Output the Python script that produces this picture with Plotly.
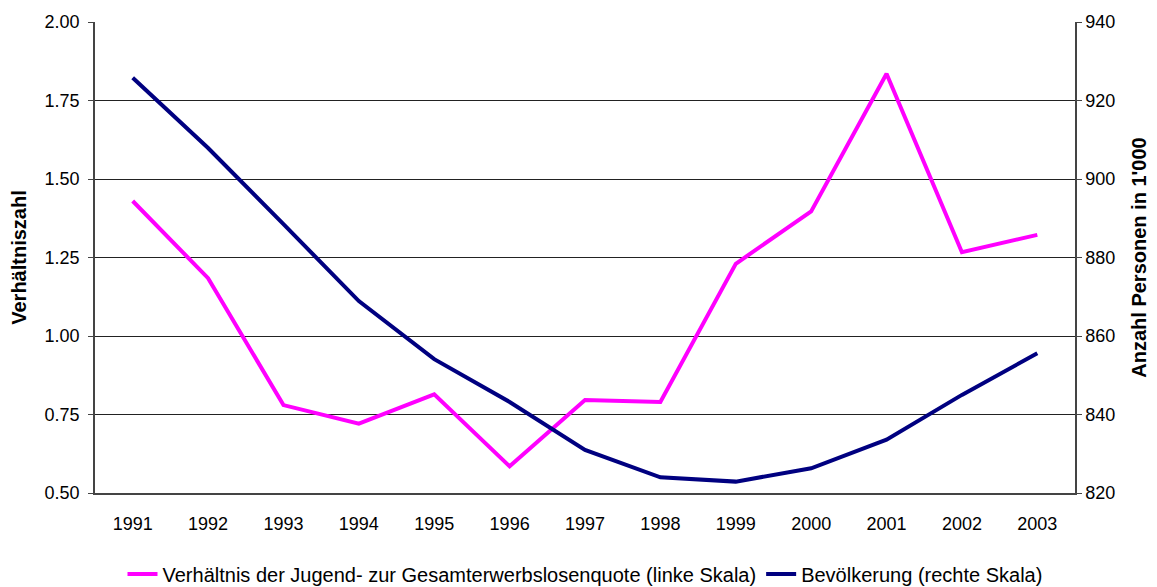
import plotly.graph_objects as go

years = ["1991", "1992", "1993", "1994", "1995", "1996", "1997",
         "1998", "1999", "2000", "2001", "2002", "2003"]
verhaeltnis = [1.43, 1.184, 0.78, 0.721, 0.814, 0.585, 0.796,
               0.79, 1.23, 1.397, 1.835, 1.267, 1.322]
bevoelkerung = [925.8, 907.9, 888.5, 868.9, 854.1, 843.2, 831.0,
                824.0, 822.9, 826.3, 833.6, 845.0, 855.6]

left_ticks = [0.5, 0.75, 1.0, 1.25, 1.5, 1.75, 2.0]
left_ticktext = ["0.50", "0.75", "1.00", "1.25", "1.50", "1.75", "2.00"]
right_ticks = [820, 840, 860, 880, 900, 920, 940]

font_family = "Liberation Sans, Arial, sans-serif"

fig = go.Figure()
fig.add_trace(go.Scatter(
    x=years, y=verhaeltnis, mode="lines",
    name="Verhältnis der Jugend- zur Gesamterwerbslosenquote (linke Skala)",
    line=dict(color="#FF00FF", width=4), yaxis="y"))
fig.add_trace(go.Scatter(
    x=years, y=bevoelkerung, mode="lines",
    name="Bevölkerung (rechte Skala)",
    line=dict(color="#000080", width=4), yaxis="y2"))

fig.update_layout(
    width=1149, height=579,
    paper_bgcolor="white", plot_bgcolor="white",
    font=dict(family=font_family, size=18, color="black"),
    margin=dict(l=87, r=82, t=14, b=94, autoexpand=False),
    showlegend=True,
    legend=dict(orientation="h", x=0.5, xanchor="center", y=-0.172, yanchor="middle",
                font=dict(size=20), tracegroupgap=0),
    xaxis=dict(type="category", range=[-0.5, 12.5], showgrid=False, automargin=False,
               showline=True, linecolor="#444", linewidth=1.5,
               ticks="", tickfont=dict(size=18), ticklabelstandoff=14),
    yaxis=dict(range=[0.5, 2.0], tickvals=left_ticks, ticktext=left_ticktext,
               showgrid=True, gridcolor="#222", gridwidth=1, automargin=False,
               showline=True, linecolor="#444", linewidth=1.5,
               ticks="outside", ticklen=5, tickcolor="#444", ticklabelstandoff=5,
               zeroline=False, tickfont=dict(size=18),
               title=dict(text="<b>Verhältniszahl</b>", font=dict(size=20), standoff=13)),
    yaxis2=dict(range=[820, 940], tickvals=right_ticks, overlaying="y", side="right",
                showgrid=False, showline=True, linecolor="#444", linewidth=1.5,
                automargin=False,
                ticks="outside", ticklen=5, tickcolor="#444", zeroline=False,
                tickfont=dict(size=18),
                title=dict(text="<b>Anzahl Personen in 1'000</b>", font=dict(size=20), standoff=18)),
)

fig.write_html("out.html")
